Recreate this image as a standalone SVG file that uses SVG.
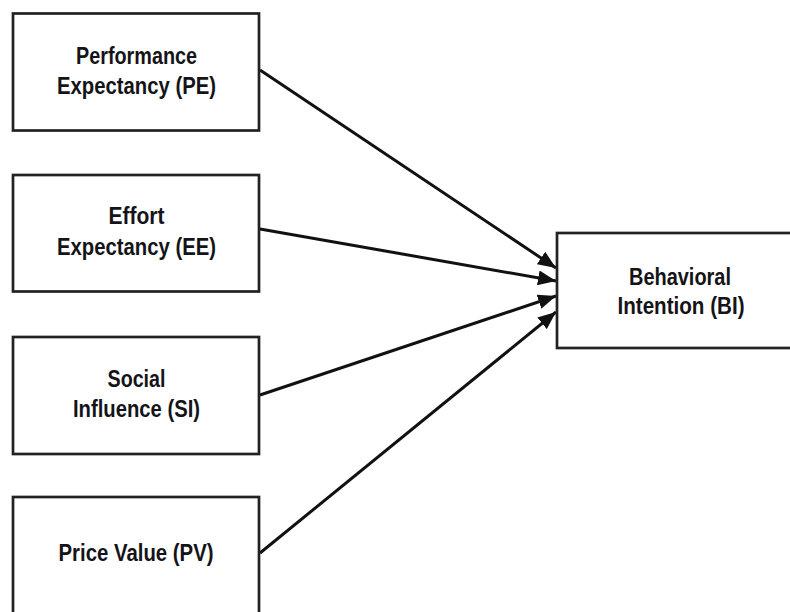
<svg xmlns="http://www.w3.org/2000/svg" width="790" height="612" viewBox="0 0 790 612">
<style>
.box{fill:#fff;stroke:#222;stroke-width:2.7}
.lbl{font-family:"Liberation Sans",Arial,sans-serif;font-size:23px;font-weight:bold;fill:#141418;text-anchor:middle}
.edge{stroke:#111;stroke-width:3;fill:none}
</style>
<defs>
<marker id="arr" markerUnits="userSpaceOnUse" markerWidth="19" markerHeight="15" refX="18" refY="7.5" orient="auto">
<path d="M0,0 L18,7.5 L0,15 Z" fill="#111"/>
</marker>
</defs>
<rect width="790" height="612" fill="#fff"/>
<g id="connectors">
<line class="edge" x1="260" y1="70" x2="556" y2="268" marker-end="url(#arr)"/>
<line class="edge" x1="260" y1="229" x2="556" y2="281" marker-end="url(#arr)"/>
<line class="edge" x1="260" y1="395" x2="556" y2="296" marker-end="url(#arr)"/>
<line class="edge" x1="260" y1="553" x2="556" y2="312" marker-end="url(#arr)"/>
</g>
<g id="PE">
<rect class="box" x="13" y="13.5" width="246" height="117"/>
<text class="lbl" x="136.5" y="63.5" textLength="121" lengthAdjust="spacingAndGlyphs">Performance</text>
<text class="lbl" x="136.5" y="94" textLength="159" lengthAdjust="spacingAndGlyphs">Expectancy (PE)</text>
</g>
<g id="EE">
<rect class="box" x="13" y="175" width="246" height="116.5"/>
<text class="lbl" x="136.5" y="224" textLength="56" lengthAdjust="spacingAndGlyphs">Effort</text>
<text class="lbl" x="136.5" y="255" textLength="159" lengthAdjust="spacingAndGlyphs">Expectancy (EE)</text>
</g>
<g id="SI">
<rect class="box" x="13" y="337" width="246" height="117"/>
<text class="lbl" x="136.5" y="387" textLength="58" lengthAdjust="spacingAndGlyphs">Social</text>
<text class="lbl" x="136.5" y="417" textLength="127" lengthAdjust="spacingAndGlyphs">Influence (SI)</text>
</g>
<g id="PV">
<rect class="box" x="13" y="497" width="246" height="130"/>
<text class="lbl" x="136" y="561" textLength="155" lengthAdjust="spacingAndGlyphs">Price Value (PV)</text>
</g>
<g id="BI">
<rect class="box" x="557" y="233" width="250" height="115"/>
<text class="lbl" x="680" y="284.5" textLength="102" lengthAdjust="spacingAndGlyphs">Behavioral</text>
<text class="lbl" x="681" y="313.5" textLength="127" lengthAdjust="spacingAndGlyphs">Intention (BI)</text>
</g>
</svg>
